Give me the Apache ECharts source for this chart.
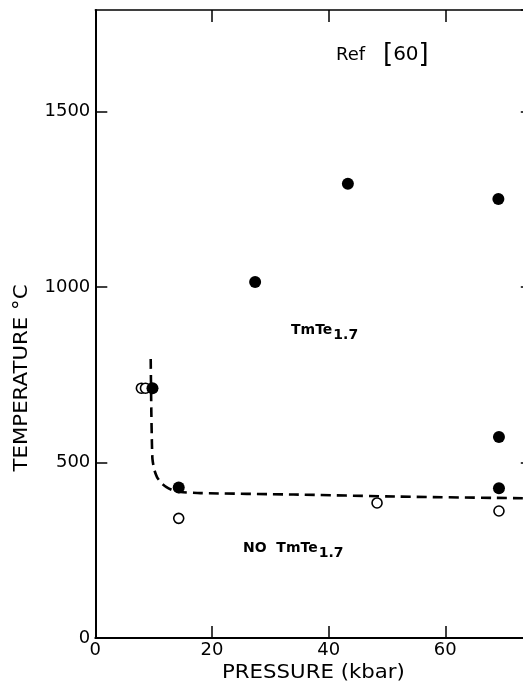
<!DOCTYPE html>
<html>
<head>
<meta charset="utf-8">
<script src="https://cdn.jsdelivr.net/npm/echarts@6/dist/echarts.min.js"></script>
<style>
  html, body { margin: 0; padding: 0; background: #fff; }
  #chart { width: 523px; height: 691px; }
</style>
</head>
<body>
<div id="chart"></div>
<script>
// Pressure (kbar), temperature (°C) observations
const filledPoints = [
  [9.8, 712],
  [14.3, 429],
  [27.4, 1015],
  [43.3, 1295],
  [69.1, 1251],
  [69.2, 573],
  [69.2, 427]
];
const openPoints = [
  [7.9, 712],
  [8.6, 712],
  [14.3, 341],
  [48.3, 385],
  [69.2, 362]
];
// Phase boundary (dashed)
const boundary = [
  [9.5, 795], [9.6, 650], [9.7, 560], [9.8, 510], [10.1, 480], [10.6, 458],
  [11.3, 442], [12.2, 430], [13.3, 421], [14.6, 416], [18, 413], [34, 409],
  [52, 403], [75, 398]
];
const xTicks = [0, 20, 40, 60];
const yTicks = [0, 500, 1000, 1500];
const xMax = 75;
const yMax = 1790;

const FONT = '"DejaVu Sans", "Liberation Sans", sans-serif';
const chart = echarts.init(document.getElementById('chart'));

const tickStyle = { inside: true, length: 12, lineStyle: { color: '#000', width: 1.5 } };
const lineStyle = { onZero: false, lineStyle: { color: '#000', width: 2 } };
const xFmt = v => (xTicks.indexOf(v) >= 0 ? String(v) : '');
const yFmt = v => (yTicks.indexOf(v) >= 0 ? String(v) : '');

chart.setOption({
  animation: false,
  backgroundColor: '#fff',
  grid: {
    left: 95.3, top: 10, width: 437.5, height: 628,
    outerBoundsMode: 'none', containLabel: false, show: false
  },
  xAxis: [
    {
      type: 'value', position: 'bottom', min: 0, max: xMax, interval: 20,
      splitLine: { show: false }, axisLine: lineStyle, axisTick: tickStyle,
      axisLabel: { color: '#000', fontFamily: FONT, fontSize: 18, margin: 3, showMaxLabel: false, formatter: xFmt }
    },
    {
      type: 'value', position: 'top', min: 0, max: xMax, interval: 20,
      splitLine: { show: false }, axisLine: { onZero: false, lineStyle: { color: '#000', width: 1.5 } },
      axisTick: tickStyle, axisLabel: { show: false }
    }
  ],
  yAxis: [
    {
      type: 'value', position: 'left', min: 0, max: yMax, interval: 500,
      splitLine: { show: false }, axisLine: lineStyle, axisTick: tickStyle,
      axisLabel: { color: '#000', fontFamily: FONT, fontSize: 18, margin: 5, showMaxLabel: false, formatter: yFmt }
    },
    {
      type: 'value', position: 'right', min: 0, max: yMax, interval: 500,
      splitLine: { show: false }, axisLine: lineStyle, axisTick: tickStyle,
      axisLabel: { show: false }
    }
  ],
  series: [
    {
      type: 'line', data: boundary, showSymbol: false, symbol: 'none', smooth: 0.2,
      lineStyle: { color: '#000', width: 2.6, type: [10, 6] }, z: 2
    },
    {
      type: 'scatter', data: openPoints, symbol: 'circle', symbolSize: 10,
      itemStyle: { color: '#fff', borderColor: '#000', borderWidth: 1.6, opacity: 1 }, z: 3
    },
    {
      type: 'scatter', data: filledPoints, symbol: 'circle', symbolSize: 12,
      itemStyle: { color: '#000', opacity: 1 }, z: 4
    }
  ],
  graphic: [
    {
      type: 'text', x: 222, y: 673, scaleX: 1.12,
      style: { text: 'PRESSURE (kbar)', font: '19px ' + FONT, fill: '#000', verticalAlign: 'middle' }
    },
    {
      type: 'text', x: 13, y: 378, rotation: Math.PI / 2, scaleX: 1.12,
      style: { text: 'TEMPERATURE °C', font: '19px ' + FONT, fill: '#000', align: 'center', verticalAlign: 'top' }
    },
    {
      type: 'text', x: 336, y: 55,
      style: { text: 'Ref', font: '18px ' + FONT, fill: '#000', verticalAlign: 'middle' }
    },
    {
      type: 'text', x: 383, y: 55,
      style: {
        text: '{b|[}{c|60}{b|]}',
        verticalAlign: 'middle',
        rich: {
          c: { font: '20px ' + FONT, fill: '#000' },
          b: { font: '26px ' + FONT, fill: '#000' }
        }
      }
    },
    {
      type: 'text', x: 291, y: 330,
      style: {
        text: '{a|TmTe}{s|1.7}',
        verticalAlign: 'middle',
        rich: {
          a: { font: 'bold 14px ' + FONT, fill: '#000' },
          s: { font: 'bold 14px ' + FONT, fill: '#000', padding: [10, 0, 0, 1] }
        }
      }
    },
    {
      type: 'text', x: 243, y: 548,
      style: {
        text: '{a|NO  TmTe}{s|1.7}',
        verticalAlign: 'middle',
        rich: {
          a: { font: 'bold 14px ' + FONT, fill: '#000' },
          s: { font: 'bold 14px ' + FONT, fill: '#000', padding: [10, 0, 0, 1] }
        }
      }
    }
  ]
});
</script>
</body>
</html>
